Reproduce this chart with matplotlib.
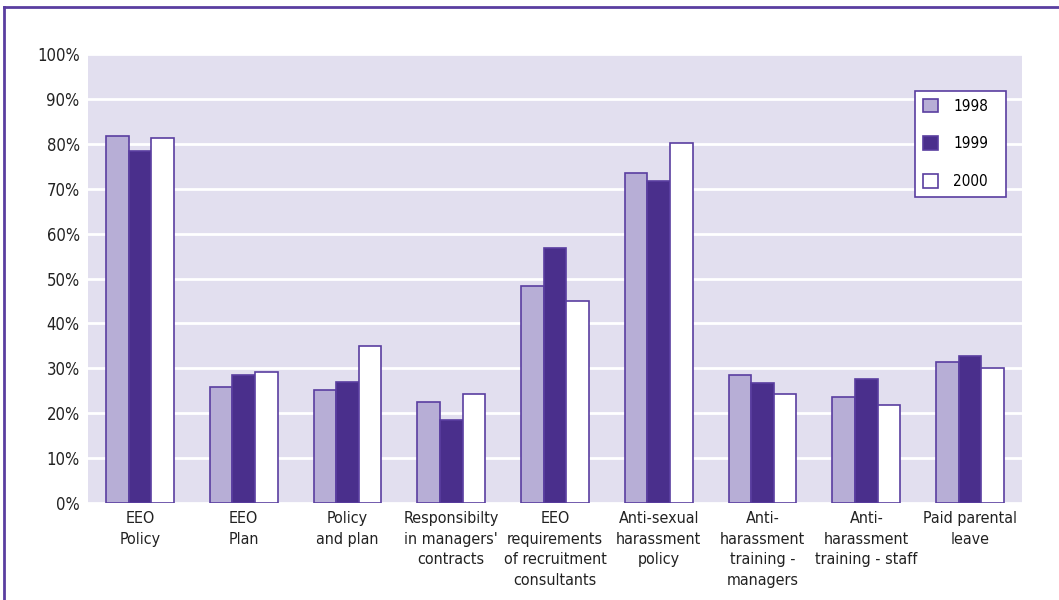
import matplotlib
matplotlib.use("Agg")
import matplotlib.pyplot as plt
import numpy as np
from matplotlib.lines import Line2D

categories = ["EEO\nPolicy", "EEO\nPlan", "Policy\nand plan", "Responsibilty\nin managers'\ncontracts",
              "EEO\nrequirements\nof recruitment\nconsultants", "Anti-sexual\nharassment\npolicy",
              "Anti-\nharassment\ntraining -\nmanagers", "Anti-\nharassment\ntraining - staff",
              "Paid parental\nleave"]
series_names = ["1998", "1999", "2000"]
v1998 = [81.7, 25.8, 25.2, 22.5, 48.3, 73.5, 28.5, 23.5, 31.3]
v1999 = [78.4, 28.5, 26.9, 18.5, 56.8, 71.7, 26.8, 27.7, 32.7]
v2000 = [81.3, 29.2, 35.0, 24.3, 45.0, 80.2, 24.3, 21.8, 30.1]
yticks = [0, 10, 20, 30, 40, 50, 60, 70, 80, 90, 100]
ytick_labels = [f"{t}%" for t in yticks]

plt.rcParams['font.family'] = ["DejaVu Sans"]
plt.rcParams['font.stretch'] = 'condensed'

edge = "#5a3ea0"
colors = ["#b7aed6", "#4a2f8c", "#ffffff"]

fig = plt.figure(figsize=(10.59, 6.0), dpi=100)
ax = fig.add_axes([88/1059, 97/600, (1022-88)/1059, (503-54)/600])
ax.set_facecolor("#e2dfef")

x = np.arange(len(categories))
w = 0.218
for i, (vals, c) in enumerate(zip([v1998, v1999, v2000], colors)):
    ax.bar(x + (i-1)*w, vals, width=w, color=c, edgecolor=edge, linewidth=1.2,
           label=series_names[i], zorder=3)

ax.set_xlim(-0.5, len(categories)-0.5)
ax.set_ylim(0, 100)
ax.set_yticks(yticks)
ax.set_yticklabels(ytick_labels, fontsize=12, color="#222222")
ax.set_xticks(x)
ax.set_xticklabels(categories, fontsize=11.5, color="#222222", linespacing=1.45)
ax.tick_params(length=0, pad=6)
ax.tick_params(axis='y', pad=6)
ax.yaxis.grid(True, color="white", linewidth=2, zorder=1)
ax.set_axisbelow(True)
for s in ax.spines.values():
    s.set_visible(False)

lx0 = (915-88)/934
lw = (1006-915)/934
ly1 = (503-91)/449
leg = ax.legend(loc="upper left", bbox_to_anchor=(lx0, ly1 - 0.3, lw, 0.3), mode="expand", frameon=True,
                fancybox=False, edgecolor=edge, fontsize=11, handlelength=1.0, handleheight=1.0,
                labelspacing=1.48, borderpad=0.5, handletextpad=1.0, borderaxespad=0, framealpha=1)
leg.get_frame().set_linewidth(1.2)
leg.get_frame().set_facecolor("white")

fig.add_artist(Line2D([4/1059, 1.0], [1-7/600, 1-7/600], transform=fig.transFigure, color=edge, linewidth=2))
fig.add_artist(Line2D([4/1059, 4/1059], [0, 1-7/600], transform=fig.transFigure, color=edge, linewidth=2))

fig.savefig("out.png", dpi=100)
